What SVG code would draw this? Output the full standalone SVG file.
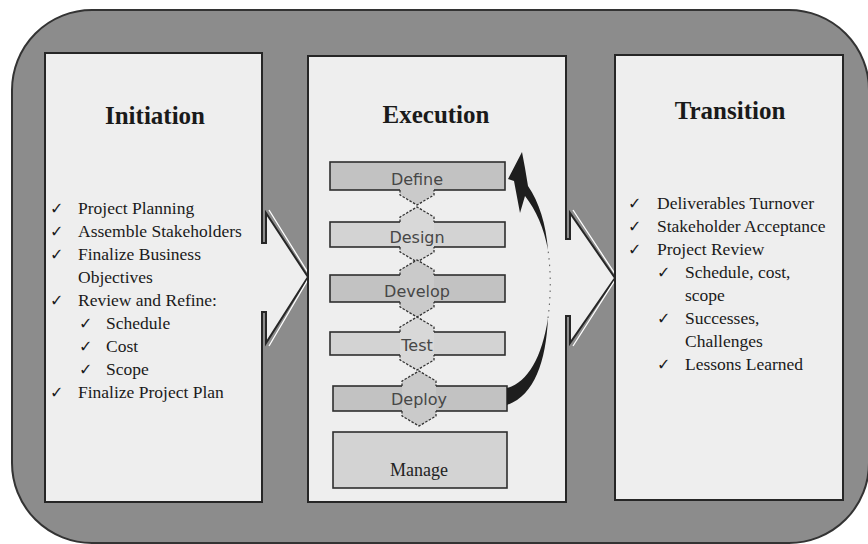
<svg xmlns="http://www.w3.org/2000/svg" width="868" height="544" viewBox="0 0 868 544">
<style>
.bg{fill:#8c8c8c;stroke:#333;stroke-width:2}
.panel{fill:#eeeeee;stroke:#262626;stroke-width:2}
.hl{fill:none;stroke:#ffffff;stroke-width:1.3}
.title{font-family:"Liberation Serif","Times New Roman",serif;font-weight:bold;font-size:25px;fill:#1a1a1a;text-anchor:middle}
.item{font-family:"Liberation Serif","Times New Roman",serif;font-size:17.5px;fill:#1a1a1a}
.chk{font-family:"DejaVu Sans",sans-serif;font-size:16px;fill:#1a1a1a}
.box{stroke:#2e2e2e;stroke-width:1.6}
.dark{fill:#c2c2c2}
.light{fill:#d3d3d3}
.hexd{fill:#cacaca}
.hexl{fill:#d8d8d8}
.cap{fill:none;stroke:#333;stroke-width:1.3;stroke-dasharray:2.5 1.5}
.lbl{font-family:"DejaVu Sans",sans-serif;font-size:16px;fill:#474747;text-anchor:middle}
.mg{font-family:"Liberation Serif","Times New Roman",serif;font-size:18px;fill:#222;text-anchor:middle}
.arr{fill:#1e1e1e}
</style>
<rect id="background" class="bg" x="12" y="10" width="857" height="533" rx="80" ry="80"/>

<g id="initiation">
  <path class="panel" d="M45,53 H262 V243 H266 V213 L308,277 L266,343 V312 H262 V502 H45 Z"/>
  <polyline class="hl" points="269,210 310,276 269,346"/>
  <text class="title" x="155" y="124">Initiation</text>
  <text class="chk" x="50" y="214">✓</text><text class="item" x="78" y="214">Project Planning</text>
  <text class="chk" x="50" y="237">✓</text><text class="item" x="78" y="237">Assemble Stakeholders</text>
  <text class="chk" x="50" y="260">✓</text><text class="item" x="78" y="260">Finalize Business</text>
  <text class="item" x="78" y="283">Objectives</text>
  <text class="chk" x="50" y="306">✓</text><text class="item" x="78" y="306">Review and Refine:</text>
  <text class="chk" x="79" y="329">✓</text><text class="item" x="106" y="329">Schedule</text>
  <text class="chk" x="79" y="352">✓</text><text class="item" x="106" y="352">Cost</text>
  <text class="chk" x="79" y="375">✓</text><text class="item" x="106" y="375">Scope</text>
  <text class="chk" x="50" y="398">✓</text><text class="item" x="78" y="398">Finalize Project Plan</text>
</g>

<g id="execution">
  <path class="panel" d="M308,56 H566 V239 H570 V213 L615,278 L570,343 V316 H566 V502 H308 Z"/>
  <polyline class="hl" points="573,210 617,277 573,346"/>
  <text class="title" x="436" y="123">Execution</text>
</g>

<g id="transition">
  <path class="panel" d="M615,55 H843 V500 H615 Z"/>
  <text class="title" x="730" y="119">Transition</text>
  <text class="chk" x="628" y="209">✓</text><text class="item" x="657" y="209">Deliverables Turnover</text>
  <text class="chk" x="628" y="232">✓</text><text class="item" x="657" y="232">Stakeholder Acceptance</text>
  <text class="chk" x="628" y="255">✓</text><text class="item" x="657" y="255">Project Review</text>
  <text class="chk" x="657" y="278">✓</text><text class="item" x="685" y="278">Schedule, cost,</text>
  <text class="item" x="685" y="301">scope</text>
  <text class="chk" x="657" y="324">✓</text><text class="item" x="685" y="324">Successes,</text>
  <text class="item" x="685" y="347">Challenges</text>
  <text class="chk" x="657" y="370">✓</text><text class="item" x="685" y="370">Lessons Learned</text>
</g>

<g id="define">
  <rect class="box dark" x="330" y="162" width="175" height="28"/>
  <polygon class="hexd" points="400,176 434,176 434,194 417,205 400,194"/>
  <polyline class="cap" points="400,190 400,195 417,205 434,195 434,190"/>
  <text class="lbl" x="417" y="185">Define</text>
</g>
<g id="design">
  <rect class="box light" x="330" y="222" width="175" height="25"/>
  <polygon class="hexl" points="400,217 417,207 434,217 434,252 417,262 400,252"/>
  <polyline class="cap" points="400,222 400,217 417,207 434,217 434,222"/>
  <polyline class="cap" points="400,247 400,252 417,262 434,252 434,247"/>
  <text class="lbl" x="417" y="243">Design</text>
</g>
<g id="develop">
  <rect class="box dark" x="330" y="275" width="175" height="27"/>
  <polygon class="hexd" points="400,270 417,260 434,270 434,307 417,317 400,307"/>
  <polyline class="cap" points="400,275 400,270 417,260 434,270 434,275"/>
  <polyline class="cap" points="400,302 400,307 417,317 434,307 434,302"/>
  <text class="lbl" x="417" y="297">Develop</text>
</g>
<g id="test">
  <rect class="box light" x="330" y="332" width="175" height="23"/>
  <polygon class="hexl" points="400,327 417,317 434,327 434,360 417,370 400,360"/>
  <polyline class="cap" points="400,332 400,327 417,317 434,327 434,332"/>
  <polyline class="cap" points="400,355 400,360 417,370 434,360 434,355"/>
  <text class="lbl" x="417" y="351">Test</text>
</g>
<g id="deploy">
  <rect class="box dark" x="333" y="386" width="174" height="25"/>
  <polygon class="hexd" points="402,381 419,371 436,381 436,416 419,426 402,416"/>
  <polyline class="cap" points="402,386 402,381 419,371 436,381 436,386"/>
  <polyline class="cap" points="402,411 402,416 419,426 436,416 436,411"/>
  <text class="lbl" x="419" y="405">Deploy</text>
</g>
<g id="manage">
  <rect class="box light" x="333" y="432" width="174" height="56"/>
  <text class="mg" x="419" y="476">Manage</text>
</g>

<g id="connectors">
  <path class="arr" d="M507,388 C527,383 542,358 548,318 C546,362 534,396 507,405 Z"/>
  <path d="M548,318 C551,295 551,272 548,250" fill="none" stroke="#666" stroke-width="1.1" stroke-dasharray="1.5 5"/>
  <path class="arr" d="M522,152 L508,179 L514,181 L520,213 L525,196 C536,210 544,228 548,250 C546,224 539,202 528,186 L525,168 Z"/>
</g>
</svg>
